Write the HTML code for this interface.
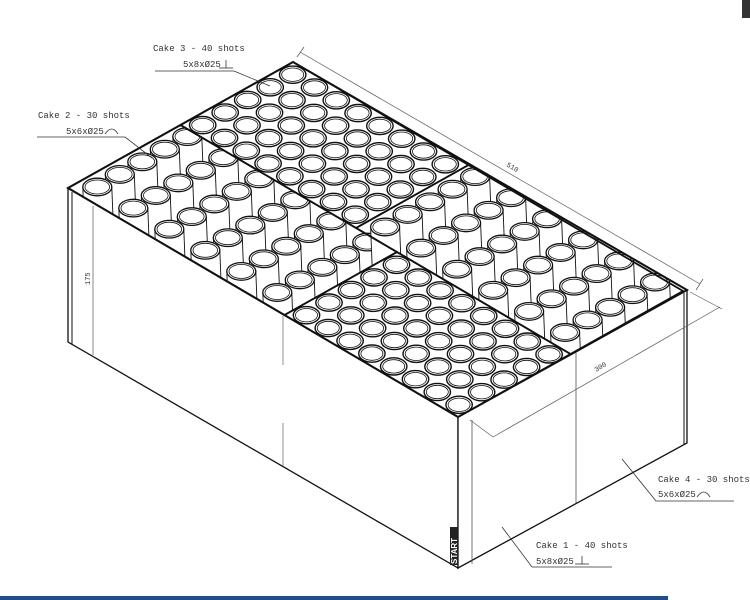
<!DOCTYPE html>
<html><head><meta charset="utf-8">
<style>
html,body{margin:0;padding:0;background:#fff;}
svg{display:block;}
text{font-family:"Liberation Mono","DejaVu Sans Mono",monospace;fill:#333;}
</style></head>
<body>
<svg width="750" height="600" viewBox="0 0 750 600" xmlns="http://www.w3.org/2000/svg" xmlns:xlink="http://www.w3.org/1999/xlink">
<defs>
<clipPath id="topclip"><polygon points="68,188 293,62 687,290 458,417"/></clipPath>
<g id="tf">
<ellipse cx="0" cy="0" rx="13.2" ry="8.6" fill="#fff" stroke="#111" stroke-width="1.4"/>
<ellipse cx="0" cy="0" rx="11" ry="6.7" fill="#fff" stroke="#111" stroke-width="0.8"/>
</g>
<g id="tt">
<path d="M-14.5,-7 L-12.5,44 L16.5,44 L14.5,-7 Z" fill="#fff"/>
<line x1="-14.5" y1="-7" x2="-12.5" y2="44" stroke="#111" stroke-width="0.9"/>
<line x1="14.5" y1="-7" x2="16.5" y2="44" stroke="#111" stroke-width="0.9"/>
<ellipse cx="0" cy="-7" rx="14.5" ry="8.8" fill="#fff" stroke="#111" stroke-width="1.3"/>
<ellipse cx="0" cy="-7" rx="12.3" ry="7" fill="#fff" stroke="#111" stroke-width="0.8"/>
</g>
<g id="rf">
<use xlink:href="#tf" x="0" y="0"/><use xlink:href="#tf" x="21.8" y="12.8"/>
<use xlink:href="#tf" x="43.6" y="25.6"/><use xlink:href="#tf" x="65.4" y="38.4"/>
<use xlink:href="#tf" x="87.2" y="51.2"/><use xlink:href="#tf" x="109" y="64"/>
<use xlink:href="#tf" x="130.8" y="76.8"/><use xlink:href="#tf" x="152.6" y="89.6"/>
</g>
<g id="rt">
<use xlink:href="#tt" x="0" y="0"/><use xlink:href="#tt" x="36" y="21.1"/>
<use xlink:href="#tt" x="72" y="42.2"/><use xlink:href="#tt" x="108" y="63.3"/>
<use xlink:href="#tt" x="144" y="84.4"/><use xlink:href="#tt" x="180" y="105.5"/>
</g>
<g id="cf">
<use xlink:href="#rf" x="90" y="-50.4"/><use xlink:href="#rf" x="67.5" y="-37.8"/>
<use xlink:href="#rf" x="45" y="-25.2"/><use xlink:href="#rf" x="22.5" y="-12.6"/>
<use xlink:href="#rf" x="0" y="0"/>
</g>
<g id="ct">
<use xlink:href="#rt" x="90" y="-50.4"/><use xlink:href="#rt" x="67.5" y="-37.8"/>
<use xlink:href="#rt" x="45" y="-25.2"/><use xlink:href="#rt" x="22.5" y="-12.6"/>
<use xlink:href="#rt" x="0" y="0"/>
</g>
</defs>
<rect width="750" height="600" fill="#fff"/>
<polygon points="68,188 458,417 458,568 68,342" fill="#fff" stroke="#111" stroke-width="1.3"/>
<polygon points="458,417 687,290 687,443 458,568" fill="#fff" stroke="#111" stroke-width="1.3"/>
<line x1="72" y1="192" x2="72" y2="345" stroke="#111" stroke-width="1"/>
<line x1="684" y1="293" x2="684" y2="444" stroke="#111" stroke-width="1"/>
<line x1="472" y1="420" x2="472" y2="564" stroke="#555" stroke-width="0.8"/>
<line x1="576" y1="350" x2="576" y2="503" stroke="#555" stroke-width="0.8"/>
<line x1="283" y1="316" x2="283" y2="365" stroke="#777" stroke-width="0.8"/>
<line x1="283" y1="423" x2="283" y2="466" stroke="#777" stroke-width="0.8"/>
<polygon points="68,188 293,62 687,290 458,417" fill="#fff"/>
<g clip-path="url(#topclip)">
<use xlink:href="#ct" x="97.3" y="194"/>
<use xlink:href="#ct" x="385.1" y="234"/>
<polygon points="180.5,125 356,228 468.5,165 293,62" fill="#fff"/>
<polygon points="284.5,315 458,417 570.5,354 397,252" fill="#fff"/>
<use xlink:href="#cf" x="202.7" y="125.1"/>
<use xlink:href="#cf" x="306.5" y="315.2"/>
</g>
<g fill="none" stroke="#111" stroke-width="1.8" stroke-linejoin="round">
<polygon points="180.5,125 356,228 468.5,165 293,62"/>
<polygon points="284.5,315 458,417 570.5,354 397,252"/>
<polygon points="68,188 284.5,315 397,252 180.5,125"/>
<polygon points="356,228 570.5,354 683,291 468.5,165"/>
</g>
<polygon points="68,188 293,62 687,290 458,417" fill="none" stroke="#111" stroke-width="2"/>
<line x1="93" y1="206" x2="93" y2="355" stroke="#555" stroke-width="0.7"/>
<text font-size="7" transform="translate(90,285) rotate(-90)">175</text>
<line x1="300" y1="52" x2="700" y2="284" stroke="#555" stroke-width="0.7"/>
<line x1="297" y1="57" x2="304" y2="47" stroke="#555" stroke-width="0.7"/>
<line x1="696" y1="290" x2="703" y2="279" stroke="#555" stroke-width="0.7"/>
<text font-size="7" transform="translate(506,166) rotate(30)">510</text>
<line x1="493" y1="437" x2="720" y2="307" stroke="#555" stroke-width="0.7"/>
<line x1="722" y1="309" x2="690" y2="292" stroke="#555" stroke-width="0.6"/>
<line x1="493" y1="437" x2="470" y2="420" stroke="#555" stroke-width="0.6"/>
<text font-size="7" transform="translate(596,372) rotate(-30)">300</text>
<rect x="450" y="527" width="8" height="38" fill="#222"/>
<text font-size="8" style="fill:#fff;font-family:'Liberation Sans',sans-serif;font-weight:bold" transform="translate(457,564) rotate(-90)">START</text>
<g font-size="9">
<text x="153" y="51">Cake 3 - 40 shots</text>
<text x="183" y="67">5x8xØ25</text>
<text x="38" y="118">Cake 2 - 30 shots</text>
<text x="66" y="134">5x6xØ25</text>
<text x="658" y="482">Cake 4 - 30 shots</text>
<text x="658" y="497">5x6xØ25</text>
<text x="536" y="548">Cake 1 - 40 shots</text>
<text x="536" y="564">5x8xØ25</text>
</g>
<g stroke="#333" stroke-width="0.8" fill="none">
<polyline points="155,71 234,71 270,86"/>
<line x1="219" y1="68" x2="233" y2="68"/><line x1="226" y1="60" x2="226" y2="68"/>
<polyline points="37,137 125,137 152,158"/>
<path d="M105,134 Q112,124 118,134"/>
<polyline points="734,501 656,501 622,459"/>
<path d="M697,497 Q704,487 710,497"/>
<polyline points="612,567 532,567 502,527"/>
<line x1="575" y1="564" x2="589" y2="564"/><line x1="582" y1="556" x2="582" y2="564"/>
</g>
<rect x="0" y="596" width="668" height="4" fill="#1f4e8c"/>
<rect x="742" y="0" width="8" height="18" fill="#333"/>
</svg>
</body></html>
